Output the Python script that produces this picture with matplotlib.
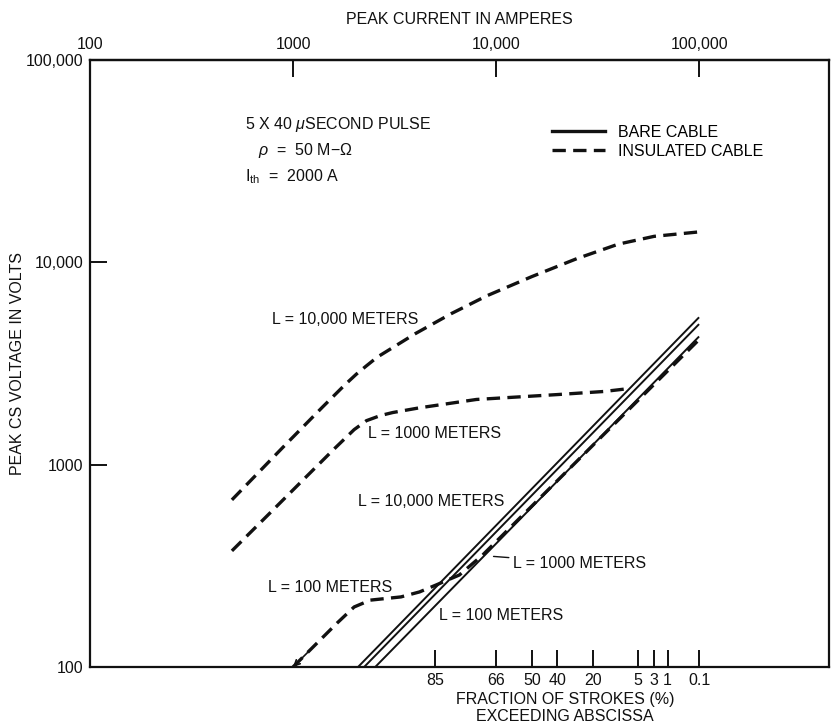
"""
Peak CS voltage vs peak lightning current for bare and insulated cable,
5 x 40 microsecond pulse, three cable lengths.
"""

import matplotlib
matplotlib.use("Agg")
import matplotlib.pyplot as plt
from matplotlib.lines import Line2D
from matplotlib.ticker import NullLocator


# ---- data ----
# bare cable, peak current (A) vs peak CS voltage (V)
BARE_10000_CURRENT = [2090, 100000]
BARE_10000_VOLTS = [100, 5350]
BARE_1000_CURRENT = [2240, 100000]
BARE_1000_VOLTS = [100, 4950]
BARE_100_CURRENT = [2540, 100000]
BARE_100_VOLTS = [100, 4300]

# insulated cable
INS_10000_CURRENT = [500, 900, 1400, 1800, 2050, 2300, 2600, 3000, 4000, 6000, 9000,
                     15000, 25000, 40000, 60000, 100000]
INS_10000_VOLTS = [670, 1230, 1930, 2480, 2800, 3080, 3400, 3715, 4440, 5570, 6830,
                   8500, 10430, 12300, 13440, 14140]
INS_1000_CURRENT = [500, 750, 1100, 1600, 2000, 2300, 2700, 3100, 4200, 8000, 20000, 34000, 44000]
INS_1000_VOLTS = [375, 562, 825, 1200, 1490, 1650, 1750, 1810, 1910, 2100, 2220, 2300, 2370]
INS_100_CURRENT = [1000, 1300, 1650, 2000, 2400, 3400, 4200, 5100, 6600, 8600, 100000]
INS_100_VOLTS = [100, 130, 165, 198, 214, 222, 235, 255, 285, 358, 4150]

TOP_TICKS = [100, 1000, 10000, 100000]
TOP_LABELS = ["100", "1000", "10,000", "100,000"]
Y_TICKS = [100, 1000, 10000, 100000]
Y_LABELS = ["100", "1000", "10,000", "100,000"]
FRACTION_CURRENT = [5000, 10000, 15000, 20000, 30000, 50000, 60000, 70000, 100000]
FRACTION_LABELS = ["85", "66", "50", "40", "20", "5", "3", "1", "0.1"]

X_LIMITS = (100, 10 ** 5.64)
Y_LIMITS = (100, 100000)

FIG_W, FIG_H = 831, 726
AX_LEFT, AX_RIGHT, AX_TOP, AX_BOTTOM = 90, 829, 60, 667

FONT = 11.5
INK = "#111111"
DASHES = (4.0, 2.2)


def px(x, y):
    """Pixel position in the reference -> axes fraction."""
    return ((x - AX_LEFT) / (AX_RIGHT - AX_LEFT), (AX_BOTTOM - y) / (AX_BOTTOM - AX_TOP))


def main():
    plt.rcParams["font.family"] = ["Liberation Sans", "DejaVu Sans"]
    plt.rcParams["mathtext.fontset"] = "custom"
    plt.rcParams["mathtext.rm"] = "Liberation Sans"
    plt.rcParams["mathtext.it"] = "Liberation Sans:italic"
    plt.rcParams["mathtext.bf"] = "Liberation Sans:bold"

    fig = plt.figure(figsize=(FIG_W / 100, FIG_H / 100), dpi=100)
    ax = fig.add_axes([
        AX_LEFT / FIG_W,
        1 - AX_BOTTOM / FIG_H,
        (AX_RIGHT - AX_LEFT) / FIG_W,
        (AX_BOTTOM - AX_TOP) / FIG_H,
    ])
    ax.set_xscale("log")
    ax.set_yscale("log")
    ax.set_xlim(*X_LIMITS)
    ax.set_ylim(*Y_LIMITS)

    bare_kw = dict(color=INK, lw=1.4, solid_capstyle="butt")
    ins_kw = dict(color=INK, lw=2.4, linestyle=(0, DASHES), dash_capstyle="butt")

    ax.plot(BARE_10000_CURRENT, BARE_10000_VOLTS, **bare_kw)
    ax.plot(BARE_1000_CURRENT, BARE_1000_VOLTS, **bare_kw)
    ax.plot(BARE_100_CURRENT, BARE_100_VOLTS, **bare_kw)

    ins, = ax.plot(INS_10000_CURRENT, INS_10000_VOLTS, label="INSULATED CABLE", **ins_kw)
    ax.plot(INS_1000_CURRENT, INS_1000_VOLTS, **ins_kw)
    ax.plot(INS_100_CURRENT, INS_100_VOLTS, **ins_kw)
    # small arrowhead where the L = 100 m insulated curve runs off the bottom
    ax.annotate("", xy=(INS_100_CURRENT[0], INS_100_VOLTS[0]),
                xytext=(INS_100_CURRENT[1], INS_100_VOLTS[1]),
                arrowprops=dict(arrowstyle="->", color=INK, lw=1.2, shrinkA=0, shrinkB=0))

    # axes styling
    for spine in ax.spines.values():
        spine.set_linewidth(1.6)
        spine.set_color(INK)

    ax.set_yticks(Y_TICKS, Y_LABELS)
    ax.set_xticks(FRACTION_CURRENT, FRACTION_LABELS)
    ax.xaxis.set_minor_locator(NullLocator())
    ax.yaxis.set_minor_locator(NullLocator())
    ax.tick_params(axis="both", which="major", direction="in", length=12, width=1.4,
                   labelsize=FONT, colors=INK, top=False, right=False)
    ax.tick_params(axis="x", pad=4)
    ax.tick_params(axis="y", pad=5)

    sec = ax.secondary_xaxis("top")
    sec.set_xticks(TOP_TICKS, TOP_LABELS)
    sec.xaxis.set_minor_locator(NullLocator())
    sec.tick_params(direction="in", length=12, width=1.4, labelsize=FONT, pad=6, colors=INK)
    sec.spines["top"].set_linewidth(1.6)
    sec.set_xlabel("PEAK CURRENT IN AMPERES", fontsize=FONT, labelpad=9, color=INK)

    ax.set_ylabel("PEAK CS VOLTAGE IN VOLTS", fontsize=FONT, color=INK)
    ax.yaxis.set_label_coords(-0.088, 0.5)
    ax.set_xlabel("FRACTION OF STROKES (%)\nEXCEEDING ABSCISSA", fontsize=FONT,
                  color=INK, linespacing=1.2)
    ax.xaxis.set_label_coords(px(565, 0)[0], px(0, 692)[1])

    # legend (solid sample drawn heavier, as in the original)
    bare_handle = Line2D([], [], color=INK, lw=2.4, label="BARE CABLE")
    ax.legend(handles=[bare_handle, ins], loc="upper left", bbox_to_anchor=px(552, 125),
              frameon=False, fontsize=FONT, borderpad=0, borderaxespad=0,
              handlelength=3.3, handletextpad=0.85, labelspacing=0.22)

    # condition block
    text_kw = dict(transform=ax.transAxes, fontsize=FONT, color=INK, ha="left", va="center")
    ax.text(*px(245, 124), r"5 X 40 $\mu$SECOND PULSE", **text_kw)
    ax.text(*px(258, 150), r"$\rho$  =  50 M$-\Omega$", **text_kw)
    ax.text(*px(245, 177), r"I$_{\rm th}$  =  2000 A", **text_kw)

    # curve labels
    ax.text(*px(272, 319), "L = 10,000 METERS", **text_kw)
    ax.text(*px(368, 433), "L = 1000 METERS", **text_kw)
    ax.text(*px(268, 587), "L = 100 METERS", **text_kw)
    ax.text(*px(358, 501), "L = 10,000 METERS", **text_kw)
    ax.text(*px(439, 616), "L = 100 METERS", **text_kw)
    ax.annotate("L = 1000 METERS", xy=px(488, 556), xytext=px(513, 563),
                xycoords="axes fraction", textcoords="axes fraction",
                fontsize=FONT, color=INK, ha="left", va="center",
                arrowprops=dict(arrowstyle="-", color=INK, lw=1.0,
                                shrinkA=1, shrinkB=4))

    fig.savefig("out.png", dpi=100)
    plt.close(fig)


if __name__ == "__main__":
    main()
